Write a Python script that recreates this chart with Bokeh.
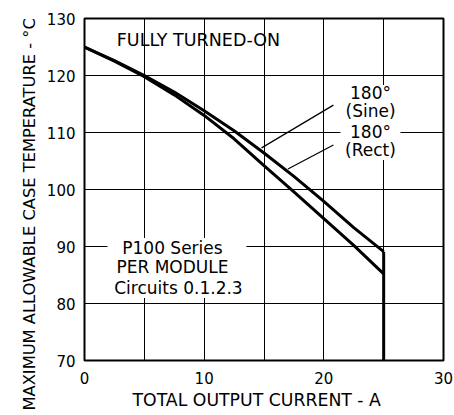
from bokeh.plotting import figure
from bokeh.models import Range1d, FixedTicker, Label, Title
from bokeh.embed import file_html
from bokeh.resources import INLINE

# ---- data ----
current = [0, 2.5, 5, 7.5, 10, 12.5, 15, 17.5, 20, 22.5, 25]
rect_180 = [125, 122.6, 120, 117.1, 113.8, 110.3, 106.4, 102.3, 97.9, 93.3, 89.1]
sine_180 = [125, 122.5, 119.8, 116.6, 113.0, 108.9, 104.2, 99.6, 94.9, 90.2, 85.2]
x_ticks = [0, 10, 20, 30]
y_ticks = [70, 80, 90, 100, 110, 120, 130]
x_grid = [5, 10, 15, 20, 25]
y_grid = [80, 90, 100, 110, 120]

FONT = "DejaVu Sans"

p = figure(width=454, height=415, x_range=Range1d(0, 30), y_range=Range1d(70, 130),
           output_backend="svg", toolbar_location=None,
           min_border_left=84, min_border_right=11, min_border_top=18, min_border_bottom=55)

p.outline_line_color = "black"
p.outline_line_width = 2
p.outline_line_alpha = 1

for ax in (p.xaxis, p.yaxis):
    ax.axis_line_color = None
    ax.major_tick_line_color = None
    ax.minor_tick_line_color = None
    ax.major_tick_in = 0
    ax.major_tick_out = 0
    ax.major_label_text_font = FONT
    ax.major_label_text_font_size = "15px"
    ax.major_label_text_color = "black"
p.xaxis.major_label_standoff = 11
p.yaxis.major_label_standoff = 9
p.xaxis.ticker = FixedTicker(ticks=x_ticks)
p.yaxis.ticker = FixedTicker(ticks=y_ticks)

p.xgrid.ticker = FixedTicker(ticks=x_grid)
p.ygrid.ticker = FixedTicker(ticks=y_grid)
for g in (p.xgrid, p.ygrid):
    g.grid_line_color = "black"
    g.grid_line_width = 1
    g.grid_line_alpha = 1

# axis titles as side-panel titles
p.add_layout(Title(text="TOTAL OUTPUT CURRENT - A", align="left", offset=48,
                   vertical_align="middle", standoff=4, text_font=FONT,
                   text_font_size="17.3px", text_font_style="normal", text_color="black"), "below")
p.add_layout(Title(text="MAXIMUM ALLOWABLE CASE TEMPERATURE - °C", align="left", offset=-50,
                   vertical_align="bottom", standoff=10, text_font=FONT,
                   text_font_size="16.3px", text_font_style="normal", text_color="black"), "left")
# invisible spacer panel at the outer left edge
p.add_layout(Title(text="|", standoff=1, text_font_size="6px", text_color=None), "left")

# white boxes hiding the grid behind the annotations
p.quad(left=[21.39, 1.92], right=[26.4, 13.53], top=[118.33, 91.49], bottom=[105.18, 80.96],
       fill_color="white", line_color=None)

# curves
p.line(current, rect_180, line_color="black", line_width=3)
p.line(current, sine_180, line_color="black", line_width=3)
p.segment(x0=[current[-1]], y0=[rect_180[-1]], x1=[current[-1]], y1=[y_ticks[0]],
          line_color="black", line_width=3)

# leader lines
p.segment(x0=[20.8, 20.8], y0=[114.8, 107.8], x1=[14.8, 17.0], y1=[107.3, 103.6],
          line_color="black", line_width=1.2)

def lab(x, y, text, size="17px"):
    p.add_layout(Label(x=x, y=y, text=text, text_font=FONT, text_font_size=size,
                       text_color="black", text_align="center", text_baseline="middle"))

lab(9.52, 126.23, "FULLY TURNED-ON", "17.5px")
lab(23.9, 116.93, "180°")
lab(23.9, 113.77, "(Sine)")
lab(23.9, 110.09, "180°")
lab(23.9, 106.93, "(Rect)")
lab(7.35, 89.74, "P100 Series")
lab(7.35, 86.4, "PER MODULE")
lab(7.85, 82.8, "Circuits 0.1.2.3")

open("out.html", "w").write(file_html(p, INLINE))
